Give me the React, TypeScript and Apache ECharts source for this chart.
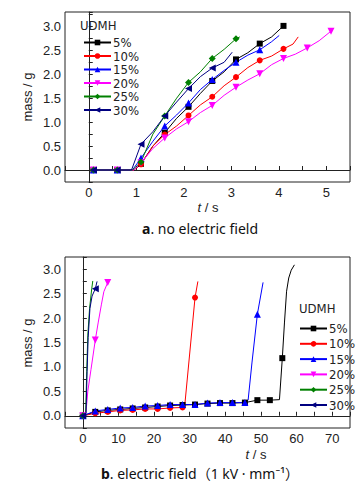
import React, { useEffect, useRef } from 'react';
import * as echarts from 'echarts';

// ---------- Chart a: no electric field ----------
const aMarkT = [0.1, 0.6, 1.1, 1.6, 2.1, 2.6, 3.1, 3.6, 4.1, 4.6, 5.1];
const a5T = [0.1, 0.6, 0.95, 1.1, 1.35, 1.6, 1.85, 2.1, 2.35, 2.6, 2.85, 3.1, 3.35, 3.6, 3.85, 4.1];
const a5M = [0, 0, 0, 0.13, 0.5, 0.78, 1.08, 1.32, 1.6, 1.86, 2.05, 2.31, 2.45, 2.64, 2.78, 3.01];
const a10T = [0.1, 0.6, 0.95, 1.1, 1.35, 1.6, 1.85, 2.1, 2.35, 2.6, 2.85, 3.1, 3.35, 3.6, 3.85, 4.1, 4.3, 4.41];
const a10M = [0, 0, 0, 0.12, 0.5, 0.74, 0.92, 1.14, 1.36, 1.53, 1.76, 1.94, 2.14, 2.29, 2.38, 2.53, 2.63, 2.78];
const a15T = [0.1, 0.6, 0.92, 1.1, 1.35, 1.6, 1.85, 2.1, 2.35, 2.6, 2.85, 3.1, 3.35, 3.6, 3.85, 4.01];
const a15M = [0, 0, 0, 0.25, 0.6, 0.92, 1.15, 1.4, 1.68, 1.89, 2.08, 2.25, 2.4, 2.51, 2.68, 2.81];
const a20T = [0.1, 0.6, 0.95, 1.1, 1.35, 1.6, 1.85, 2.1, 2.35, 2.6, 2.85, 3.1, 3.35, 3.6, 3.85, 4.1, 4.35, 4.6, 4.85, 5.1];
const a20M = [0, 0, 0, 0.15, 0.45, 0.67, 0.86, 1.01, 1.2, 1.35, 1.56, 1.73, 1.88, 2.01, 2.2, 2.33, 2.42, 2.55, 2.7, 2.9];
const a25T = [0.1, 0.6, 0.92, 1.1, 1.35, 1.6, 1.85, 2.1, 2.35, 2.6, 2.85, 3.1, 3.18];
const a25M = [0, 0, 0, 0.17, 0.75, 1.13, 1.5, 1.83, 2.05, 2.33, 2.52, 2.74, 2.78];
const a30T = [0.1, 0.6, 0.9, 1.1, 1.35, 1.6, 1.85, 2.1, 2.35, 2.6, 2.85, 3.02];
const a30M = [0, 0, 0, 0.54, 0.8, 1.13, 1.42, 1.7, 1.95, 2.13, 2.25, 2.46];

// ---------- Chart b: electric field ----------
const bMarkT = [0, 3.5, 7, 10.5, 14, 17.5, 21, 24.5, 28, 31.5, 35, 38.5, 42, 45.5, 49, 52.5, 56];
const b5T = [0, 3.5, 7, 10.5, 14, 17.5, 21, 24.5, 28, 31.5, 35, 38.5, 42, 45.5, 49, 52.5, 55.2, 56, 56.6, 57.2, 57.8, 58.5, 59.4];
const b5M = [0, 0.08, 0.11, 0.13, 0.15, 0.17, 0.19, 0.21, 0.22, 0.23, 0.25, 0.26, 0.26, 0.27, 0.32, 0.32, 0.33, 1.18, 1.9, 2.55, 2.82, 2.98, 3.09];
const b10T = [0, 3.5, 7, 10.5, 14, 17.5, 21, 24.5, 28, 28.6, 31.5, 32.3];
const b10M = [0, 0.05, 0.08, 0.11, 0.12, 0.14, 0.14, 0.16, 0.17, 0.2, 2.42, 2.75];
const b15T = [0, 3.5, 7, 10.5, 14, 17.5, 21, 24.5, 28, 31.5, 35, 38.5, 42, 45.5, 46.4, 47.5, 49, 50.6];
const b15M = [0, 0.1, 0.13, 0.16, 0.17, 0.2, 0.21, 0.23, 0.23, 0.23, 0.26, 0.27, 0.27, 0.27, 0.32, 1.1, 2.08, 2.73];
const b20T = [0, 0.9, 1.4, 2.3, 3.5, 4.3, 5.2, 5.9, 7.0];
const b20M = [0, 0.08, 0.5, 0.95, 1.55, 1.9, 2.27, 2.54, 2.73];
const b25T = [0, 0.8, 1.1, 1.4, 1.9, 2.5, 2.8];
const b25M = [0, 0.05, 0.9, 1.65, 2.2, 2.6, 2.76];
const b30T = [0, 0.9, 1.2, 1.5, 2.0, 2.6, 3.5, 4.0];
const b30M = [0, 0.05, 0.9, 1.6, 2.2, 2.45, 2.6, 2.75];

const names = ['5%', '10%', '15%', '20%', '25%', '30%'];
const colors = ['#000000', '#ff0000', '#0000ff', '#ff00ff', '#008000', '#000080'];
const symbols = ['rect', 'circle', 'triangle', 'triangle', 'diamond', 'triangle'];
const rotates = [0, 0, 0, 180, 0, 90];
const sizes = [6, 6, 7, 7, 7, 7];

const aData = [[a5T, a5M], [a10T, a10M], [a15T, a15M], [a20T, a20M], [a25T, a25M], [a30T, a30M]];
const bData = [[b5T, b5M], [b10T, b10M], [b15T, b15M], [b20T, b20M], [b25T, b25M], [b30T, b30M]];

const FONT = "'Liberation Sans', Arial, sans-serif";
const NARROW = "'Liberation Sans Narrow', 'Arial Narrow', 'DejaVu Sans Condensed', sans-serif";
const CAP = "'Noto Sans', 'Noto Sans CJK SC', sans-serif";
const AXC = '#222';

function buildData(t: number[], m: number[], marks: number[]) {
  return t.map((x, i) => {
    const marked = marks.some((v) => Math.abs(v - x) < 1e-6);
    return marked ? { value: [x, m[i]] } : { value: [x, m[i]], symbol: 'none' };
  });
}

function mkSeries(data: number[][][], marks: number[], axis: number) {
  return data.map(([t, m], k) => ({
    type: 'line',
    name: names[k],
    xAxisIndex: axis,
    yAxisIndex: axis,
    data: buildData(t, m, marks),
    symbol: symbols[k],
    symbolRotate: rotates[k],
    symbolSize: sizes[k],
    showSymbol: true,
    showAllSymbol: true,
    color: colors[k],
    lineStyle: { width: 1, color: colors[k] },
    itemStyle: { color: colors[k] },
  }));
}

const yLabel = (v: number) => (Math.abs(v * 2 - Math.round(v * 2)) < 1e-6 ? v.toFixed(1) : '');

export default function App() {
  const ref = useRef<HTMLDivElement>(null);
  useEffect(() => {
    const chart = echarts.init(ref.current!, null, { renderer: 'svg' });
    const axisCommon = {
      axisLine: { show: true, lineStyle: { color: AXC, width: 1 } },
      axisTick: { show: true, inside: true, length: 4, lineStyle: { color: AXC } },
      splitLine: { show: false },
      axisLabel: { fontFamily: FONT, fontSize: 13, color: AXC, margin: 4 },
    };
    const legendCommon = {
      orient: 'vertical',
      itemWidth: 27,
      itemHeight: 7,
      textStyle: { fontFamily: NARROW, fontSize: 13, color: AXC, lineHeight: 13, padding: [0, 0, 0, -3] },
      data: names,
      selectedMode: false,
    };
    const tsStyle = (x: number, y: number) => ({
      type: 'text', x, y,
      style: {
        text: '{i|t} / s', fontFamily: FONT, fontSize: 13, fill: AXC, align: 'center', verticalAlign: 'middle',
        rich: { i: { fontStyle: 'italic', fontFamily: FONT, fontSize: 13, fill: AXC } },
      },
    });
    const option: any = {
      animation: false,
      backgroundColor: '#ffffff',
      grid: [
        { left: 65, top: 12, width: 285, height: 170, show: true, borderColor: AXC, borderWidth: 1 },
        { left: 65, top: 257, width: 285, height: 171, show: true, borderColor: AXC, borderWidth: 1 },
      ],
      xAxis: [
        {
          ...axisCommon,
          gridIndex: 0,
          type: 'value',
          min: -0.5,
          max: 5.5,
          interval: 0.5,
          axisLabel: {
            ...axisCommon.axisLabel,
            formatter: (v: number) => (Math.abs(v - Math.round(v)) < 1e-6 ? String(Math.round(v)) : ''),
          },
        },
        {
          ...axisCommon,
          gridIndex: 1,
          type: 'value',
          min: -5,
          max: 75,
          interval: 5,
          axisLabel: {
            ...axisCommon.axisLabel,
            formatter: (v: number) => (Math.round(v) % 10 === 0 && v >= 0 ? String(Math.round(v)) : ''),
          },
        },
      ],
      yAxis: [
        { ...axisCommon, gridIndex: 0, type: 'value', min: -0.25, max: 3.3, interval: 0.25, axisLabel: { ...axisCommon.axisLabel, formatter: yLabel } },
        { ...axisCommon, gridIndex: 1, type: 'value', min: -0.25, max: 3.25, interval: 0.25, axisLabel: { ...axisCommon.axisLabel, formatter: yLabel } },
      ],
      legend: [
        { ...legendCommon, left: 78, top: 31, itemGap: 0.5 },
        { ...legendCommon, left: 294, top: 317, itemGap: 2.3 },
      ],
      graphic: [
        { type: 'text', left: 80, top: 19, style: { text: 'UDMH', fontFamily: NARROW, fontSize: 13, fill: AXC } },
        { type: 'text', left: 299, top: 302, style: { text: 'UDMH', fontFamily: NARROW, fontSize: 13, fill: AXC } },
        { type: 'text', x: 27, y: 97, rotation: Math.PI / 2, style: { text: 'mass / g', fontFamily: FONT, fontSize: 13, fill: AXC, align: 'center', verticalAlign: 'middle' } },
        { type: 'text', x: 27, y: 343, rotation: Math.PI / 2, style: { text: 'mass / g', fontFamily: FONT, fontSize: 13, fill: AXC, align: 'center', verticalAlign: 'middle' } },
        tsStyle(208, 207),
        tsStyle(256, 454),
        {
          type: 'text', x: 200, y: 228,
          style: {
            text: '{b|a}. no electric field',
            fontFamily: CAP, fontSize: 14, fill: '#111', align: 'center', verticalAlign: 'middle',
            rich: { b: { fontWeight: 'bold', fontFamily: CAP, fontSize: 14, fill: '#111' } },
          },
        },
        {
          type: 'text', x: 200, y: 473,
          style: {
            text: '{b|b}. electric field（1 kV · mm⁻¹）',
            fontFamily: CAP, fontSize: 14, fill: '#111', align: 'center', verticalAlign: 'middle',
            rich: { b: { fontWeight: 'bold', fontFamily: CAP, fontSize: 14, fill: '#111' } },
          },
        },
      ],
      series: [...mkSeries(aData, aMarkT, 0), ...mkSeries(bData, bMarkT, 1)],
    };
    chart.setOption(option);
    return () => chart.dispose();
  }, []);
  return <div ref={ref} style={{ position: 'absolute', left: 0, top: 0, width: 364, height: 484, background: '#fff' }} />;
}
